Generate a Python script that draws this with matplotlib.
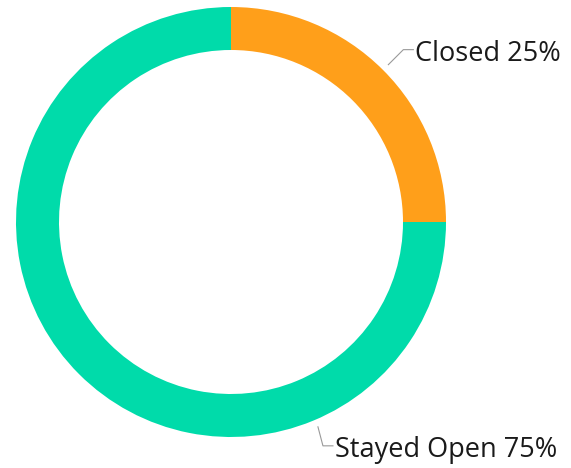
import numpy as np
import matplotlib
matplotlib.use("Agg")
import matplotlib.pyplot as plt

labels = ["Closed", "Stayed Open"]
values = [25, 75]
colors = ["#FF9F1A", "#00DBAA"]
# angle (deg) where each leader line leaves the ring
label_angles = [45, -67]

W, H = 571, 468
fig = plt.figure(figsize=(W / 100, H / 100), dpi=100)
ax = fig.add_axes([0, 0, 1, 1])

cx, cy, r = 231, H - 222, 215
ax.pie(values, colors=colors, startangle=90, counterclock=False,
       radius=r, center=(cx, cy), frame=True,
       wedgeprops=dict(width=43, linewidth=0))
ax.set_xlim(0, W)
ax.set_ylim(0, H)
ax.set_aspect("equal")
ax.axis("off")

total = sum(values)
for lab, v, ang in zip(labels, values, label_angles):
    a = np.deg2rad(ang)
    x0 = cx + r * 1.035 * np.cos(a)
    y0 = cy + r * 1.035 * np.sin(a)
    if ang > 0:
        x1, y1 = x0 + 15, y0 + 15
    else:
        x1, y1 = x0 + 5, y0 - 19
    x2 = x1 + 10
    ax.plot([x0, x1, x2], [y0, y1, y1], color="#999999", lw=0.8)
    ax.text(x2 + 2, y1 - 4, f"{lab} {v / total * 100:.0f}%", fontsize=19.5,
            family="Open Sans", color="#1a1a1a", va="center", ha="left")

fig.savefig("out.png", dpi=100)
